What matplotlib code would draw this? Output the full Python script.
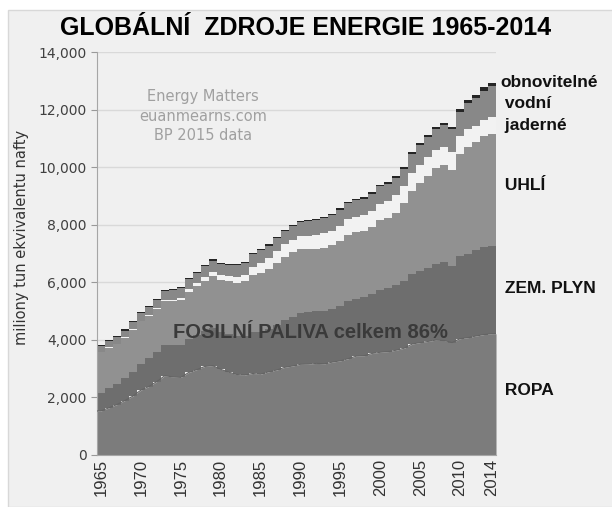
import numpy as np
import matplotlib.pyplot as plt
from matplotlib.patches import Rectangle
from matplotlib.ticker import FuncFormatter

years = list(range(1965, 2015))

# million tonnes oil equivalent (BP 2015)
oil = [1530, 1639, 1752, 1892, 2045, 2254, 2378, 2553, 2754, 2710,
       2695, 2867, 2965, 3075, 3106, 2976, 2878, 2798, 2778, 2832,
       2806, 2889, 2950, 3043, 3091, 3150, 3157, 3183, 3168, 3226,
       3271, 3348, 3434, 3450, 3530, 3568, 3592, 3640, 3710, 3855,
       3906, 3945, 3993, 3976, 3907, 4040, 4077, 4132, 4185, 4211]
gas = [634, 680, 725, 785, 855, 923, 980, 1030, 1080, 1100,
       1110, 1170, 1200, 1250, 1320, 1300, 1320, 1330, 1350, 1450,
       1480, 1500, 1580, 1650, 1720, 1770, 1800, 1810, 1840, 1850,
       1920, 2000, 1990, 2030, 2080, 2180, 2210, 2280, 2340, 2430,
       2500, 2560, 2640, 2720, 2670, 2870, 2920, 3000, 3040, 3066]
coal = [1400, 1410, 1370, 1400, 1450, 1470, 1470, 1480, 1520, 1530,
        1580, 1640, 1700, 1730, 1800, 1810, 1830, 1850, 1900, 1980,
        2050, 2080, 2150, 2200, 2230, 2220, 2190, 2180, 2190, 2210,
        2250, 2300, 2310, 2290, 2300, 2400, 2420, 2500, 2690, 2890,
        3050, 3200, 3330, 3370, 3320, 3530, 3720, 3740, 3850, 3882]
nuclear = [6, 8, 9, 12, 14, 18, 25, 33, 45, 58,
           83, 96, 118, 137, 146, 161, 190, 208, 234, 283,
           335, 363, 396, 428, 436, 453, 477, 483, 499, 510,
           526, 545, 543, 551, 571, 584, 601, 610, 599, 625,
           627, 635, 622, 620, 614, 626, 600, 560, 563, 574]
hydro = [209, 220, 226, 235, 250, 265, 274, 284, 290, 320,
         325, 330, 340, 365, 380, 385, 390, 400, 420, 430,
         440, 445, 450, 465, 465, 490, 500, 500, 530, 535,
         560, 565, 575, 580, 585, 600, 595, 600, 610, 650,
         680, 715, 740, 790, 800, 860, 910, 970, 1020, 1070]
renew = [40, 40, 40, 40, 40, 40, 40, 40, 40, 40,
         40, 40, 40, 40, 40, 40, 40, 40, 40, 40,
         40, 40, 40, 40, 40, 45, 45, 45, 45, 45,
         45, 48, 50, 52, 55, 58, 55, 57, 57, 62,
         66, 67, 70, 68, 81, 91, 90, 100, 120, 126]

layers = [gas, coal, nuclear, hydro, renew]
colors = ['#6e6e6e', '#919191', '#f2f2f2', '#888888', '#252525']
right_labels = ['obnovitelné', ' vodní', ' jaderné', ' UHLÍ', ' ZEM. PLYN', ' ROPA']

bg = '#f0f0f0'
fig = plt.figure(figsize=(6.12, 5.07), dpi=100, facecolor='white')
fig.patches.append(Rectangle((8 / 612, 0), 1, 497 / 507, transform=fig.transFigure,
                             facecolor=bg, edgecolor='#d8d8d8', lw=1, zorder=-10))
ax = fig.add_axes([97 / 612, 52 / 507, 399 / 612, 403 / 507], zorder=2)
ax.set_facecolor(bg)

yr = np.array(years)
edges = np.append(yr - 0.5, yr[-1] + 0.5)
base = np.array(oil, dtype=float)

# oil drawn as smooth area, the rest as stacked steps
xs = np.concatenate([[edges[0]], yr, [edges[-1]]])
ys = np.concatenate([[oil[0]], oil, [oil[-1]]])
ax.fill_between(xs, 0, ys, color='#7c7c7c', lw=0, zorder=2)
ax.plot(xs, ys, color='#646464', lw=0.8, zorder=3)
for vals, c in zip(layers, colors):
    top = base + np.array(vals)
    ax.stairs(top, edges, baseline=base, fill=True, color=c, lw=0, zorder=2)
    base = top

ax.set_xlim(edges[0], edges[-1])
ax.set_ylim(0, 14000)
ax.set_yticks(range(0, 14001, 2000))
ax.yaxis.set_major_formatter(FuncFormatter(lambda v, p: f'{int(v):,}'))
ax.set_xticks([1965, 1970, 1975, 1980, 1985, 1990, 1995, 2000, 2005, 2010, 2014])
ax.set_xticks(years, minor=True)
ax.tick_params(axis='x', labelrotation=90, labelsize=12, colors='#999999',
               labelcolor='#333333', length=4, direction='in', pad=3)
ax.tick_params(axis='x', which='minor', length=3, direction='in', colors='#999999')
ax.tick_params(axis='y', labelsize=10, colors='#999999', labelcolor='#404040', length=4)
for lab in ax.get_xticklabels():
    lab.set_family('Liberation Sans')
ax.grid(axis='y', color='#d9d9d9', lw=1, zorder=1)
ax.set_axisbelow(True)
for s in ['top', 'right']:
    ax.spines[s].set_visible(False)
for s in ['left', 'bottom']:
    ax.spines[s].set_color('#a6a6a6')

ax.set_ylabel('miliony tun ekvivalentu nafty', fontsize=10.5, color='#333333')
ax.yaxis.set_label_coords(-0.17, 0.54)

fig.text(0.5, 0.944, 'GLOBÁLNÍ  ZDROJE ENERGIE 1965-2014', ha='center', va='center',
         fontsize=18, fontweight='bold', family='Liberation Sans')
ax.text(1977.75, 11770, 'Energy Matters\neuanmearns.com\nBP 2015 data', ha='center',
        va='center', fontsize=10.5, color='#a0a0a0', linespacing=1.4)
ax.text(1991.25, 4240, 'FOSILNÍ PALIVA celkem 86%', ha='center', va='center',
        fontsize=14.5, fontweight='bold', color='#3a3a3a', family='Liberation Sans')

label_y = [12950, 12200, 11450, 9350, 5800, 2250]
for txt, y in zip(right_labels, label_y):
    ax.text(2015.0, y, txt, ha='left', va='center', fontsize=12.5, fontweight='bold',
            family='Liberation Sans', color='#111111', clip_on=False)

fig.savefig('out.png', dpi=100, facecolor='white')
